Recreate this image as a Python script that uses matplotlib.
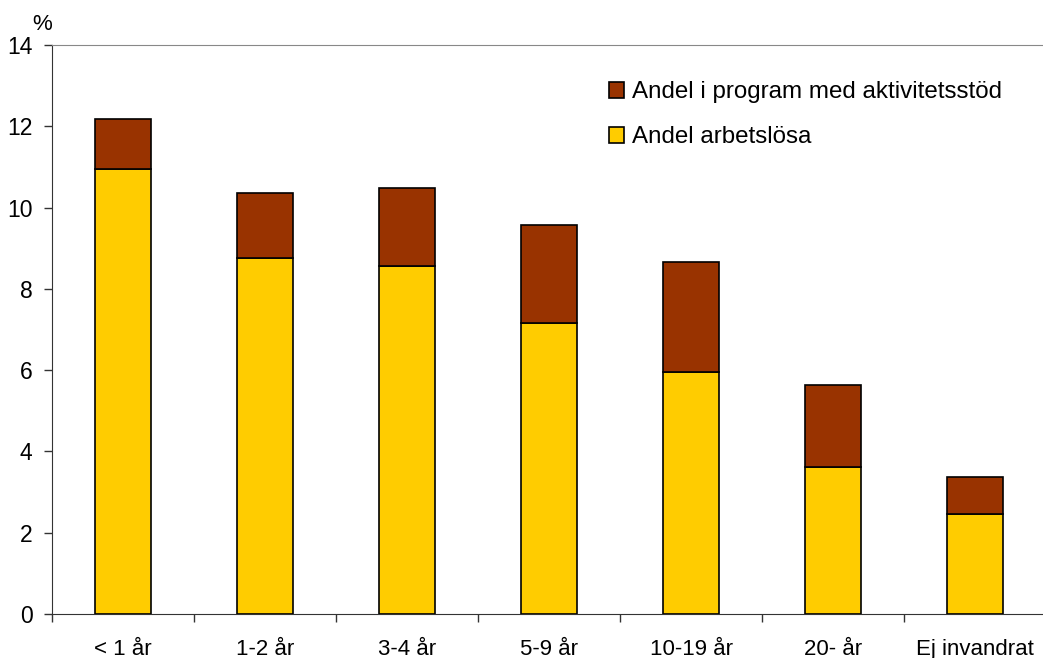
import matplotlib.pyplot as plt
import numpy as np

plt.rcParams['font.family'] = ['Liberation Sans', 'DejaVu Sans']

# data
categories = ['< 1 år', '1-2 år', '3-4 år', '5-9 år', '10-19 år', '20- år', 'Ej invandrat']
arbetslosa = [10.95, 8.76, 8.56, 7.16, 5.95, 3.62, 2.46]
totalt = [12.18, 10.36, 10.48, 9.57, 8.66, 5.63, 3.37]
program = [t - a for t, a in zip(totalt, arbetslosa)]

yellow = '#ffcc00'
brown = '#993300'

fig = plt.figure(figsize=(10.43, 6.58), dpi=100)
ax = fig.add_axes([52/1043, 1 - 614/658, (1046 - 52)/1043, (614 - 45)/658])

xs = np.arange(len(categories))
ax.bar(xs, arbetslosa, width=0.4, color=yellow, edgecolor='black', linewidth=1.2,
       label='Andel arbetslösa')
ax.bar(xs, program, width=0.4, bottom=arbetslosa, color=brown, edgecolor='black',
       linewidth=1.2, label='Andel i program med aktivitetsstöd')

ax.set_xlim(-0.5, len(categories) - 0.5)
ax.set_ylim(0, 14)
ax.set_yticks(np.arange(0, 15, 2))
ax.tick_params(axis='y', labelsize=16.5, length=6, width=1, color='#333333', pad=8)

# category labels centred, tick marks at the boundaries
ax.set_xticks(np.arange(len(categories) + 1) - 0.5)
ax.set_xticklabels([])
ax.set_xticks(xs, minor=True)
ax.set_xticklabels(categories, minor=True, fontsize=16)
ax.tick_params(axis='x', which='major', length=6, width=1, color='#333333')
ax.tick_params(axis='x', which='minor', length=0, pad=18)

ax.spines['right'].set_visible(False)
ax.spines['top'].set_color('#888888')
ax.spines['left'].set_color('#333333')
ax.spines['bottom'].set_color('#333333')

ax.text(-0.010, 1.036, '%', transform=ax.transAxes, fontsize=16, ha='center', va='center')

h, l = ax.get_legend_handles_labels()
ax.legend(h[::-1], l[::-1], loc='upper left', bbox_to_anchor=(0.5604, 0.936), frameon=False,
          fontsize=17.4, handlelength=0.6, handleheight=0.6, handletextpad=0.33,
          labelspacing=0.95, borderpad=0, borderaxespad=0)

fig.savefig('out.png', dpi=100)
